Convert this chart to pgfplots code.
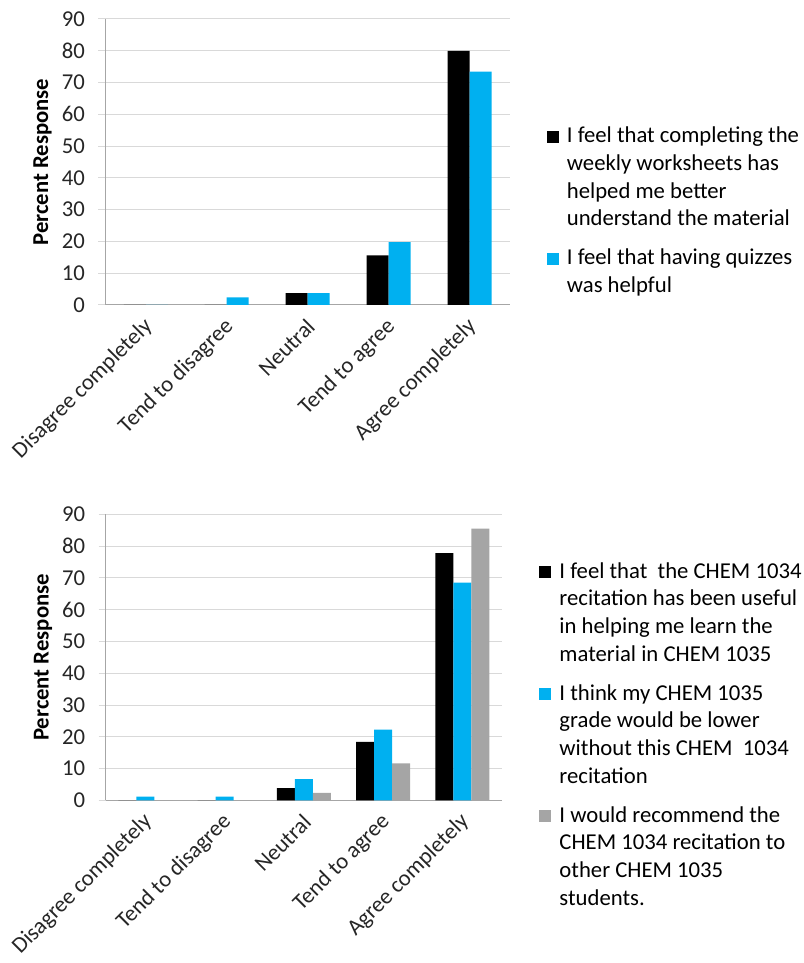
\documentclass[border=0pt]{standalone}
\usepackage{fontspec}
\setmainfont{Carlito}
\usepackage{pgfplots}
\pgfplotsset{compat=1.18}

\definecolor{xlblue}{HTML}{00B0F0}
\definecolor{xlgray}{HTML}{A5A5A5}
\definecolor{gridgray}{HTML}{D9D9D9}
\definecolor{axisgray}{HTML}{A6A6A6}

\newcommand{\lfont}{\fontsize{22.7}{27.7}\selectfont}
% legend text: baseline on the last line, so the row keeps its full height
\newcommand{\entry}[1]{\parbox[b]{250pt}{\raggedright\strut#1\strut}}

\pgfplotsset{
  % square swatch, raised to the first line of an entry with #1 lines below it
  sq/.style={legend image code/.code={\fill[##1, draw=none] (0pt,{#1*27.7pt}) rectangle (12pt,{#1*27.7pt+12pt});}},
  likert/.style={
    scale only axis,
    xmin=-0.5, xmax=4.5,
    ymin=0, ymax=90,
    ytick={0,10,...,90},
    xtick={0,1,2,3,4},
    xticklabels={Disagree completely,Tend to disagree,Neutral,Tend to agree,Agree completely},
    minor xtick={-0.5,0.5,...,4.5},
    axis x line*=bottom,
    axis y line*=left,
    axis line style={axisgray, line width=1pt},
    x axis line style={-},
    y axis line style={-},
    tick align=outside,
    major tick length=7pt,
    minor tick length=7pt,
    xtick style={draw=none},
    minor x tick style={axisgray, line width=1pt},
    ytick style={gridgray, line width=1pt},
    ymajorgrids,
    grid style={gridgray, line width=1pt},
    /pgf/number format/assume math mode=true,
    tick label style={font=\lfont, text=black!85},
    yticklabel style={xshift=-10pt},
    xticklabel style={rotate=45, anchor=east, yshift=-10pt, xshift=-2pt},
    ylabel={Percent Response},
    ylabel style={font=\lfont\bfseries, at={(axis description cs:-0.155,0.5)}, anchor=center},
    legend style={draw=none, fill=none, font=\lfont, inner sep=0pt,
      row sep=13.9pt, column sep=6pt,
      cells={anchor=base west}},
  }
}

\begin{document}
\begin{tikzpicture}
\useasboundingbox (0pt,0pt) rectangle (803pt,963pt);

% Worksheets and quizzes
\begin{axis}[likert,
  at={(105.3pt,658pt)}, anchor=south west,
  width=404.7pt, height=286pt,
  ybar=0pt, bar width=22pt,
  legend style={at={(axis description cs:1.0907,0.643)}, anchor=north west},
]
\addplot[fill=black, draw=none, sq=3] coordinates {(0,0) (1,0) (2,3.7) (3,15.6) (4,80.0)};
\addplot[fill=xlblue, draw=none, sq=1] coordinates {(0,0) (1,2.4) (2,3.7) (3,19.8) (4,73.4)};
\legend{\entry{I feel that completing the\\weekly worksheets has\\helped me better\\understand the material},
        \entry{I feel that having quizzes\\was helpful}}
\end{axis}

% CHEM 1034 recitation
\begin{axis}[likert,
  at={(105.7pt,162.5pt)}, anchor=south west,
  width=396.3pt, height=286.2pt,
  ybar=0pt, bar width=18pt,
  ylabel style={at={(axis description cs:-0.158,0.5)}},
  legend style={at={(axis description cs:1.0941,0.852)}, anchor=north west},
]
\addplot[fill=black, draw=none, sq=3] coordinates {(0,0) (1,0) (2,3.9) (3,18.4) (4,77.8)};
\addplot[fill=xlblue, draw=none, sq=3] coordinates {(0,1.2) (1,1.2) (2,6.7) (3,22.3) (4,68.5)};
\addplot[fill=xlgray, draw=none, sq=3] coordinates {(0,0) (1,0) (2,2.4) (3,11.7) (4,85.5)};
\legend{\entry{I feel that~ the CHEM 1034\\recitation has been useful\\in helping me learn the\\material in CHEM 1035},
        \entry{I think my CHEM 1035\\grade would be lower\\without this CHEM~ 1034\\recitation},
        \entry{I would recommend the\\CHEM 1034 recitation to\\other CHEM 1035\\students.}}
\end{axis}
\end{tikzpicture}
\end{document}
